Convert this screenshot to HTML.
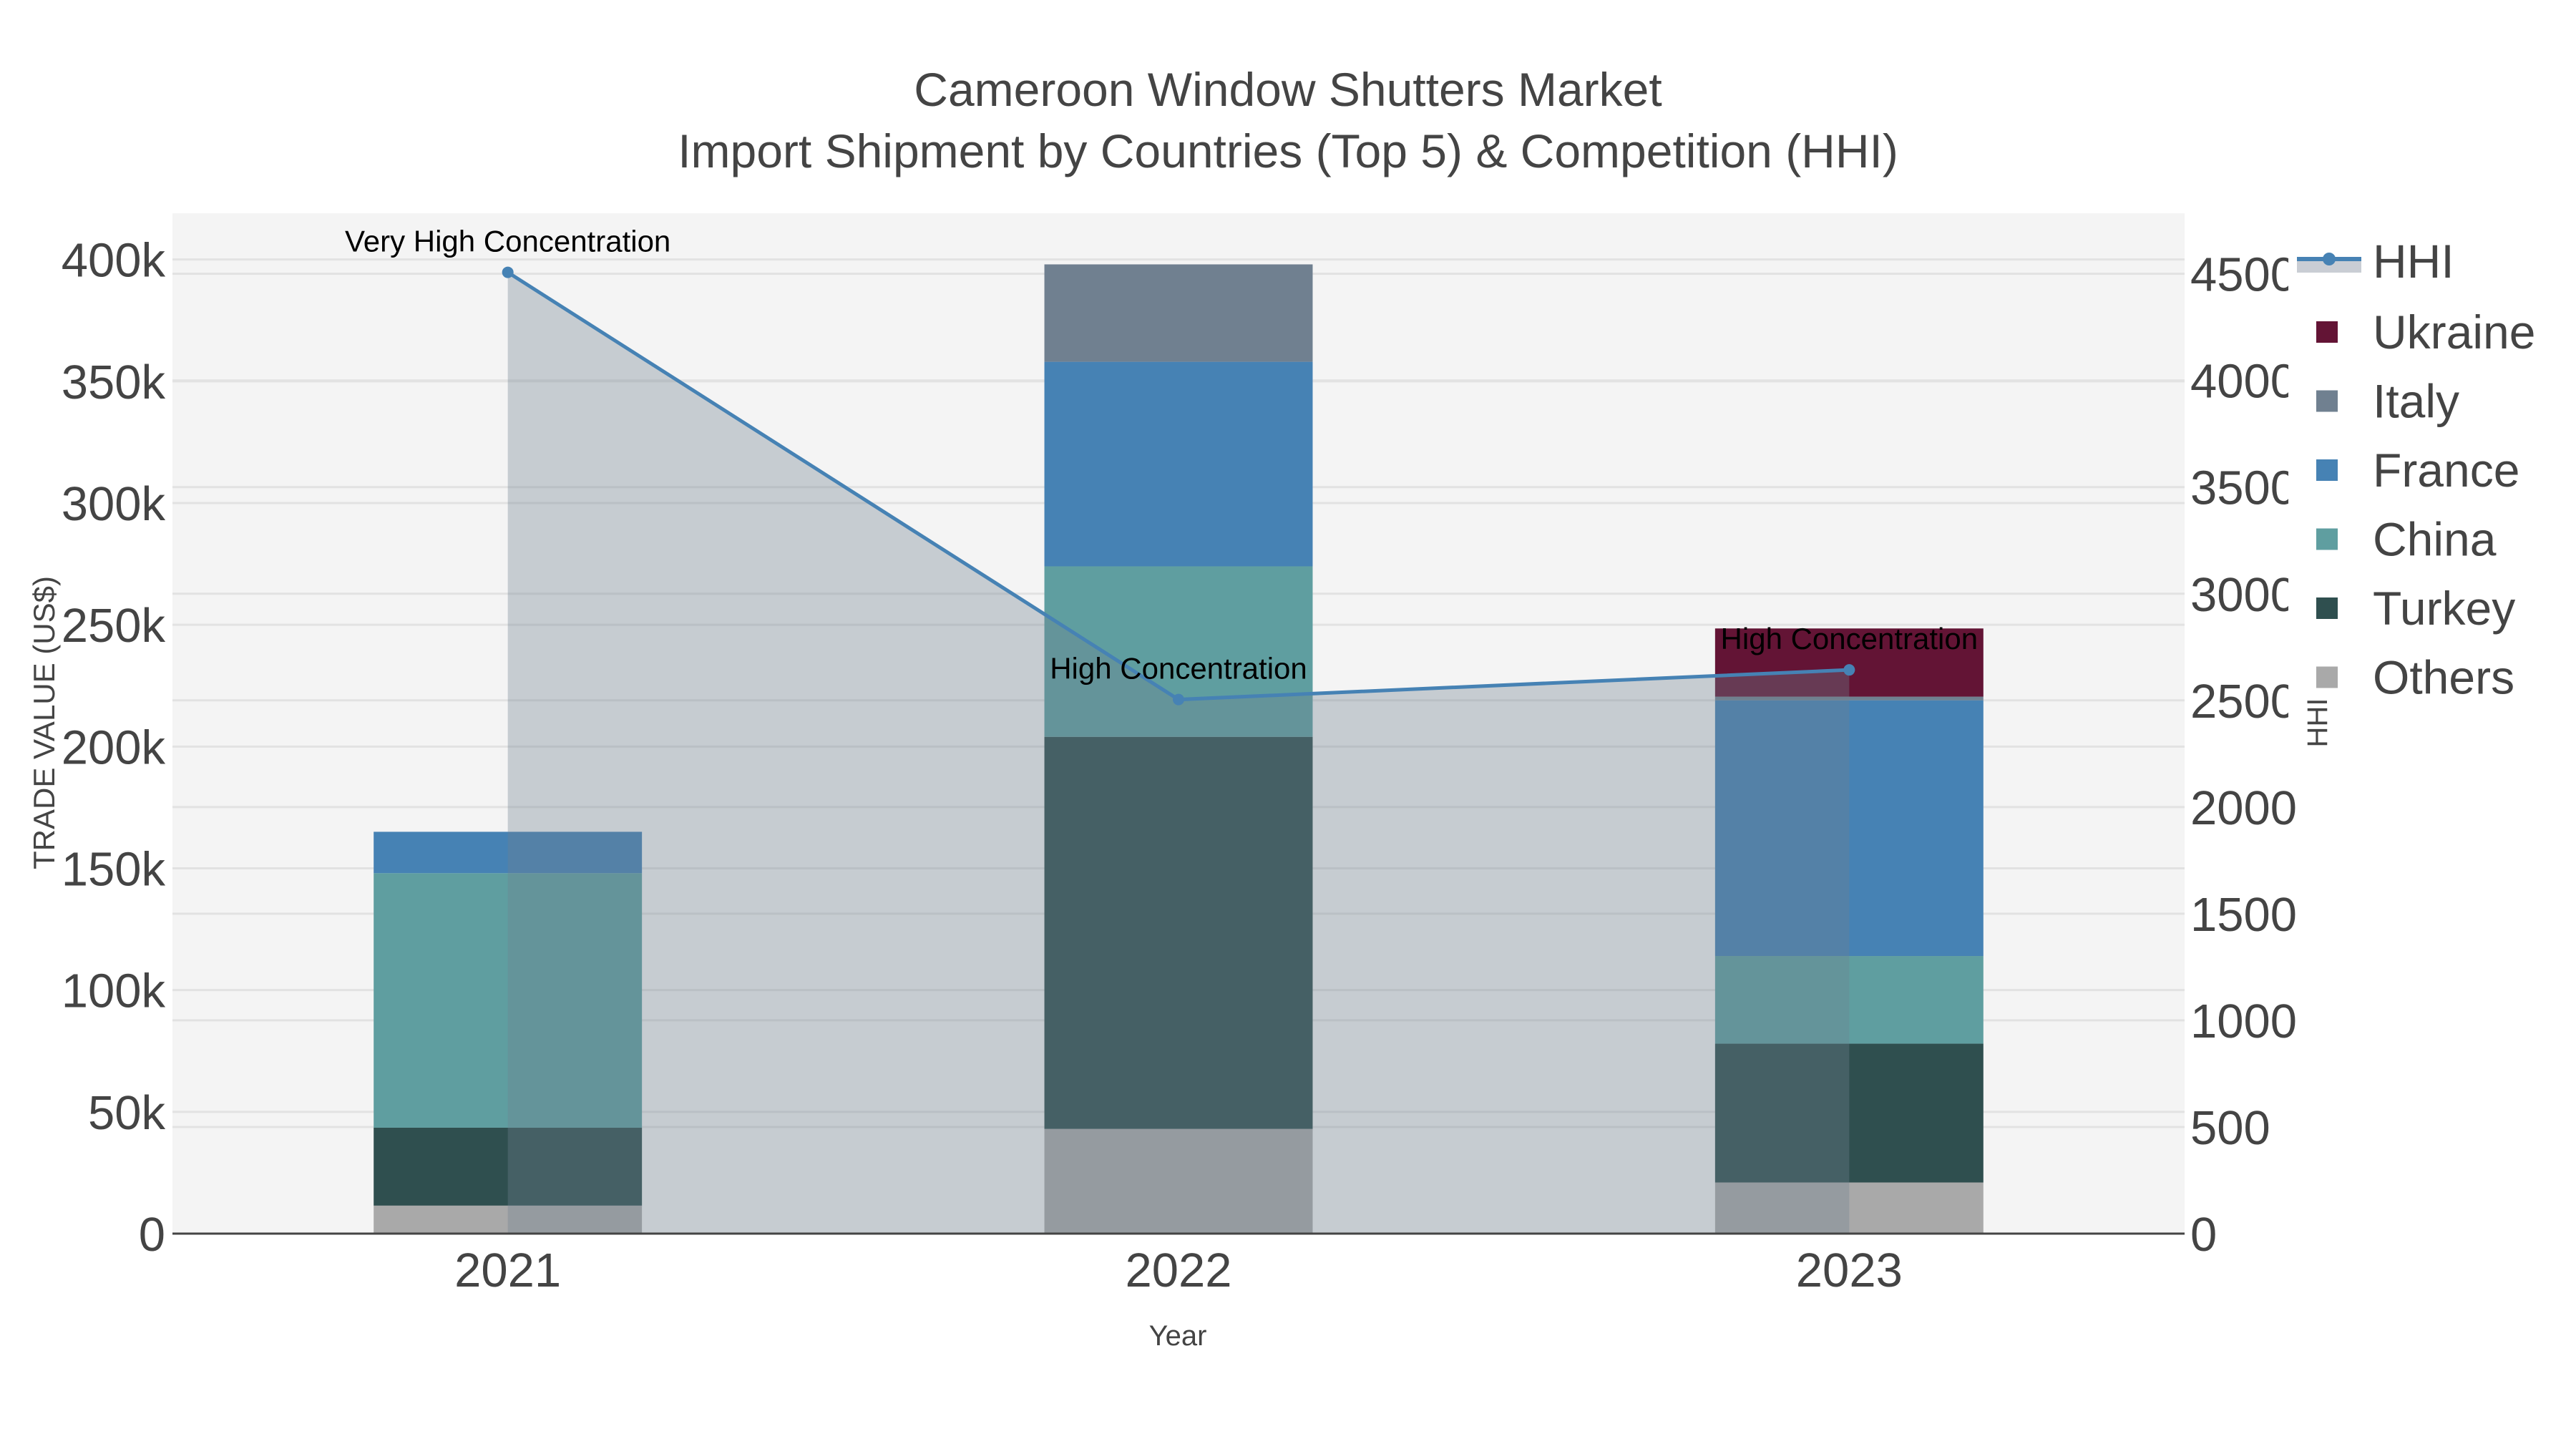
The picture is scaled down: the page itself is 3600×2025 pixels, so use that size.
<!DOCTYPE html>
<html><head><meta charset="utf-8"><style>
html,body{margin:0;padding:0;background:#fff;}
svg{display:block;font-family:"Liberation Sans",sans-serif;}
</style></head><body>
<svg id="chart" width="3600" height="2025" viewBox="0 0 3600 2025" xmlns="http://www.w3.org/2000/svg">
<rect x="0" y="0" width="3600" height="2025" fill="#ffffff"/>
<rect x="241" y="298" width="2812" height="1426" fill="#f4f4f4"/>
<g id="grid"></g><g id="bars"></g><g id="area"></g><g id="line"></g><g id="axes"></g><g id="ann"></g>
<text x="1800" y="148" text-anchor="middle" font-size="66" fill="#444">Cameroon Window Shutters Market</text>
<text x="1800" y="234" text-anchor="middle" font-size="66" fill="#444">Import Shipment by Countries (Top 5) &amp; Competition (HHI)</text>
<text x="1646" y="1880" text-anchor="middle" font-size="40" fill="#444">Year</text>
<text transform="translate(76,1010) rotate(-90)" text-anchor="middle" font-size="42" fill="#444">TRADE VALUE (US$)</text>
<g id="y2labels"></g>
<rect x="3198" y="300" width="402" height="800" fill="#ffffff"/>
<text transform="translate(3252,1010) rotate(-90)" text-anchor="middle" font-size="40" fill="#444">HHI</text>
<g id="legend"></g>
</svg>
<script>
const years = ["2021","2022","2023"];
const others = [11500, 43000, 21000];
const turkey = [32000, 161000, 57000];
const china = [104500, 70000, 36000];
const france = [17000, 84000, 105000];
const italy = [0, 40000, 1500];
const ukraine = [0, 0, 28000];
const hhi = [4507, 2504, 2643];
const hhiLabels = ["Very High Concentration","High Concentration","High Concentration"];
const yTicks = [0,50000,100000,150000,200000,250000,300000,350000,400000];
const yTickLabels = ["0","50k","100k","150k","200k","250k","300k","350k","400k"];
const y2Ticks = [0,500,1000,1500,2000,2500,3000,3500,4000,4500];

const NS="http://www.w3.org/2000/svg";
const L=241,R=3053,T=298,B=1724;
const yMax=419000, y2Max=4784;
const xs=i=>L+(i+0.5)*(R-L)/3;
const ys=v=>B-v/yMax*(B-T);
const y2s=v=>B-v/y2Max*(B-T);
function mk(tag,attrs,parent){const e=document.createElementNS(NS,tag);for(const k in attrs)e.setAttribute(k,attrs[k]);document.getElementById(parent).appendChild(e);return e;}

yTicks.forEach((v,i)=>{
  const g=mk('line',{x1:L,x2:R,y1:ys(v),y2:ys(v),stroke:'#e2e2e2','stroke-width':3},'grid');
  
  
  const t=mk('text',{x:L-10,y:ys(v)+24,'text-anchor':'end','font-size':67,fill:'#444'},'axes');
  t.textContent=yTickLabels[i];
  
  
});
y2Ticks.forEach(v=>{
  const g=mk('line',{x1:L,x2:R,y1:y2s(v),y2:y2s(v),stroke:'#e2e2e2','stroke-width':3},'grid');
  
  
  const t=mk('text',{x:R+8,y:y2s(v)+24,'text-anchor':'start','font-size':67,fill:'#444'},'y2labels');
  t.textContent=String(v);
  
  
});

const series=[["others",others,"#a9a9a9"],["turkey",turkey,"#2f4f4f"],["china",china,"#5f9ea0"],["france",france,"#4682b4"],["italy",italy,"#708090"],["ukraine",ukraine,"#631435"]];
const bw=(R-L)/3*0.4;
years.forEach((yr,i)=>{
  let base=0;
  series.forEach(s=>{
    const v=s[1][i]; if(v<=0)return;
    const r=mk('rect',{x:xs(i)-bw/2,y:ys(base+v),width:bw,height:ys(base)-ys(base+v),fill:s[2]},'bars');
    
    
    base+=v;
  });
  const t=mk('text',{x:xs(i),y:1798,'text-anchor':'middle','font-size':67,fill:'#444'},'axes');
  t.textContent=yr;
  
  
});

let d='M'+xs(0)+','+B;
hhi.forEach((v,i)=>{d+=' L'+xs(i)+','+y2s(v);});
d+=' L'+xs(hhi.length-1)+','+B+' Z';
const a=mk('path',{d:d,fill:'rgba(112,128,144,0.35)'},'area');


const pl=mk('polyline',{points:hhi.map((v,i)=>xs(i)+','+y2s(v)).join(' '),fill:'none',stroke:'#4682b4','stroke-width':5},'line');


hhi.forEach((v,i)=>{
  const c=mk('circle',{cx:xs(i),cy:y2s(v),r:8,fill:'#4682b4'},'line');
  
  
  const t=mk('text',{x:xs(i),y:y2s(v)-29,'text-anchor':'middle','font-size':42,fill:'#000'},'ann');
  t.textContent=hhiLabels[i];
  
  
});
const ax=mk('line',{x1:L,x2:R,y1:B,y2:B,stroke:'#444','stroke-width':3},'axes');



const lf=mk('rect',{x:3210,y:362,width:90,height:19,fill:'#c9cdd4'},'legend');


const ll=mk('line',{x1:3210,x2:3300,y1:362,y2:362,stroke:'#4682b4','stroke-width':6},'legend');


const lc=mk('circle',{cx:3255,cy:362,r:9,fill:'#4682b4'},'legend');


const lt=mk('text',{x:3316,y:388,'font-size':66,fill:'#444'},'legend');
lt.textContent='HHI';


const legItems=[["Ukraine","#631435"],["Italy","#708090"],["France","#4682b4"],["China","#5f9ea0"],["Turkey","#2f4f4f"],["Others","#a9a9a9"]];
legItems.forEach((it,k)=>{
  const cy=464+k*96.5;
  const s=mk('rect',{x:3237,y:cy-15,width:30,height:30,fill:it[1]},'legend');
  
  
  const t=mk('text',{x:3316,y:cy+23,'font-size':66,fill:'#444'},'legend');
  t.textContent=it[0];
  
  
});
</script>
</body></html>
